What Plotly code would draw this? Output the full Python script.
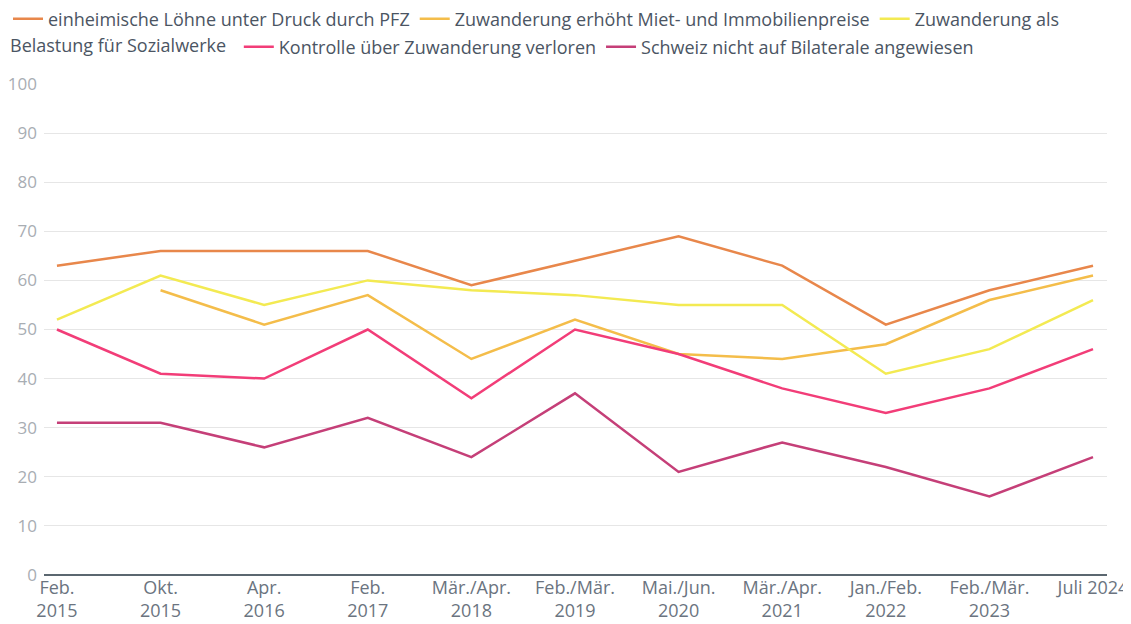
import plotly.graph_objects as go

categories = [
    "Feb.<br>2015", "Okt.<br>2015", "Apr.<br>2016", "Feb.<br>2017", "Mär./Apr.<br>2018",
    "Feb./Mär.<br>2019", "Mai./Jun.<br>2020", "Mär./Apr.<br>2021", "Jan./Feb.<br>2022",
    "Feb./Mär.<br>2023", "Juli 2024",
]

loehne = [63, 66, 66, 66, 59, 64, 69, 63, 51, 58, 63]
mietpreise = [None, 58, 51, 57, 44, 52, 45, 44, 47, 56, 61]
sozialwerke = [52, 61, 55, 60, 58, 57, 55, 55, 41, 46, 56]
kontrolle = [50, 41, 40, 50, 36, 50, 45, 38, 33, 38, 46]
bilaterale = [31, 31, 26, 32, 24, 37, 21, 27, 22, 16, 24]

# (full name, legend text, values, colour, legend row)
series = [
    ("einheimische Löhne unter Druck durch PFZ", "einheimische Löhne unter Druck durch PFZ",
     loehne, "#e8874b", "legend"),
    ("Zuwanderung erhöht Miet- und Immobilienpreise", "Zuwanderung erhöht Miet- und Immobilienpreise",
     mietpreise, "#f4bd4a", "legend"),
    ("Zuwanderung als Belastung für Sozialwerke", "Zuwanderung als",
     sozialwerke, "#f3ea52", "legend"),
    ("Kontrolle über Zuwanderung verloren", "Kontrolle über Zuwanderung verloren",
     kontrolle, "#f23d78", "legend2"),
    ("Schweiz nicht auf Bilaterale angewiesen", "Schweiz nicht auf Bilaterale angewiesen",
     bilaterale, "#c53f78", "legend2"),
]

# page body has an 8px margin, so the figure is drawn 8px smaller
W, H = 1123, 616
FS = 18

fig = go.Figure()
for full_name, label, values, color, leg in series:
    fig.add_trace(go.Scatter(
        x=list(range(len(categories))), y=values,
        mode="lines", name=label, legend=leg,
        line=dict(color=color, width=2.5),
        hovertemplate=full_name + ": %{y}<extra></extra>",
    ))

legend_common = dict(
    orientation="h", xref="container", yref="container",
    xanchor="left", yanchor="middle",
    font=dict(size=FS, color="#4b5563"),
    itemwidth=30, bgcolor="rgba(0,0,0,0)",
)

fig.update_layout(
    width=W, height=H,
    font=dict(family="Open Sans, Noto Sans, sans-serif", size=FS, color="#4b5563"),
    plot_bgcolor="white", paper_bgcolor="white",
    margin=dict(l=36, r=24, t=76, b=49, autoexpand=False),
    showlegend=True,
    legend=dict(x=-10.5 / W, y=1 - 11 / H, **legend_common),
    legend2=dict(
        x=-4.6 / W, y=1 - 39 / H,
        title=dict(text="Belastung für Sozialwerke ", side="left",
                   font=dict(size=FS, color="#4b5563")),
        **legend_common,
    ),
    xaxis=dict(
        tickmode="array", tickvals=list(range(len(categories))), ticktext=categories,
        range=[-0.125, 10.135],
        showgrid=False, zeroline=False, showline=False,
        tickfont=dict(size=FS, color="#6b7480"),
        ticks="",
    ),
    yaxis=dict(
        range=[0, 100], dtick=10,
        showgrid=True, gridcolor="#e6e6e6", gridwidth=1,
        zeroline=True, zerolinecolor="#5b6770", zerolinewidth=1.5,
        tickfont=dict(size=17, color="#a8adb3"),
        ticks="", ticklabelstandoff=6,
    ),
)

fig.write_html("out.html")
